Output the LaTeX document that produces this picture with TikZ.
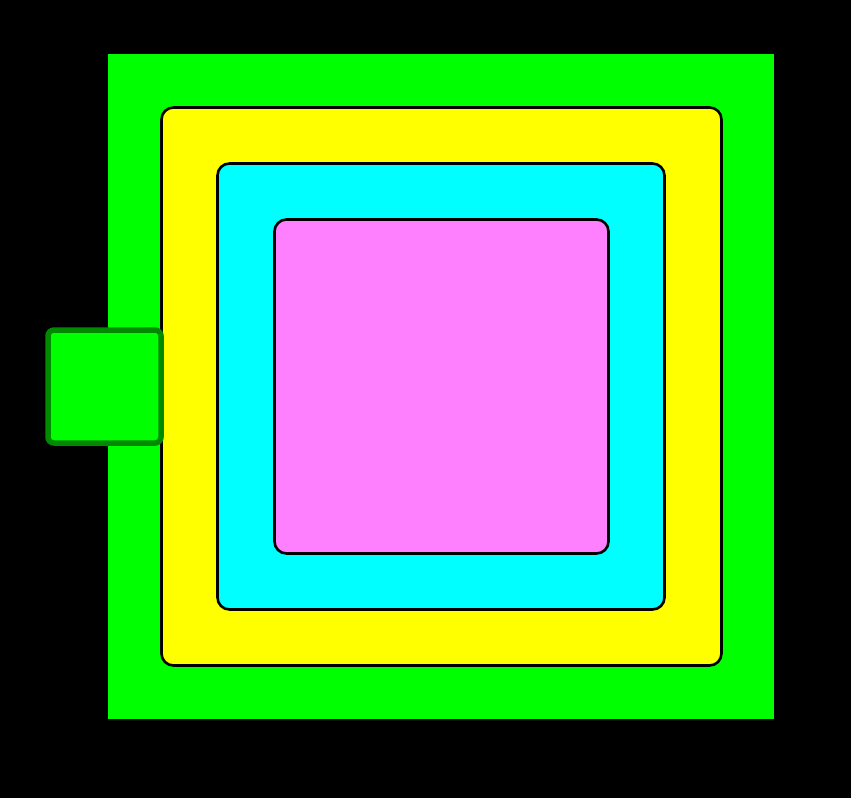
\documentclass[tikz,border=0pt]{standalone}
\usepackage{tikz}
\usetikzlibrary{positioning}
\definecolor{lime}{HTML}{00FF00}
\definecolor{darklime}{HTML}{008A00}
\definecolor{lemon}{HTML}{FFFF00}
\definecolor{aqua}{HTML}{00FFFF}
\definecolor{orchid}{HTML}{FF80FF}
\tikzstyle{ring} = [draw=black, line width=2.6pt, rounded corners=12pt, inner sep=0pt]
\tikzstyle{tab} = [draw=darklime, fill=lime, line width=5.5pt, rounded corners=6pt, inner sep=0pt,
 minimum width=113pt, minimum height=113pt]

\begin{document}
\begin{tikzpicture}[x=1pt, y=-1pt]
	% Hintergrund
	\fill[black] (0,0) rectangle (851,798);
	\useasboundingbox (0,0) rectangle (851,798);
	% Quadrate von aussen nach innen
	\node[fill=lime, inner sep=0pt, minimum width=666pt, minimum height=665pt] (outer) at (441,386.5) {};
	\node[ring, fill=lemon, minimum width=560pt, minimum height=558pt] (yellow) at (441.5,386.5) {};
	\node[ring, fill=aqua, minimum width=447pt, minimum height=446pt] (cyan) at (441,386.5) {};
	\node[ring, fill=orchid, minimum width=334pt, minimum height=334pt] (pink) at (441.5,386.5) {};
	% kleines Quadrat links
	\node[tab] (port) at (104.5,386.5) {};
\end{tikzpicture}
\end{document}
